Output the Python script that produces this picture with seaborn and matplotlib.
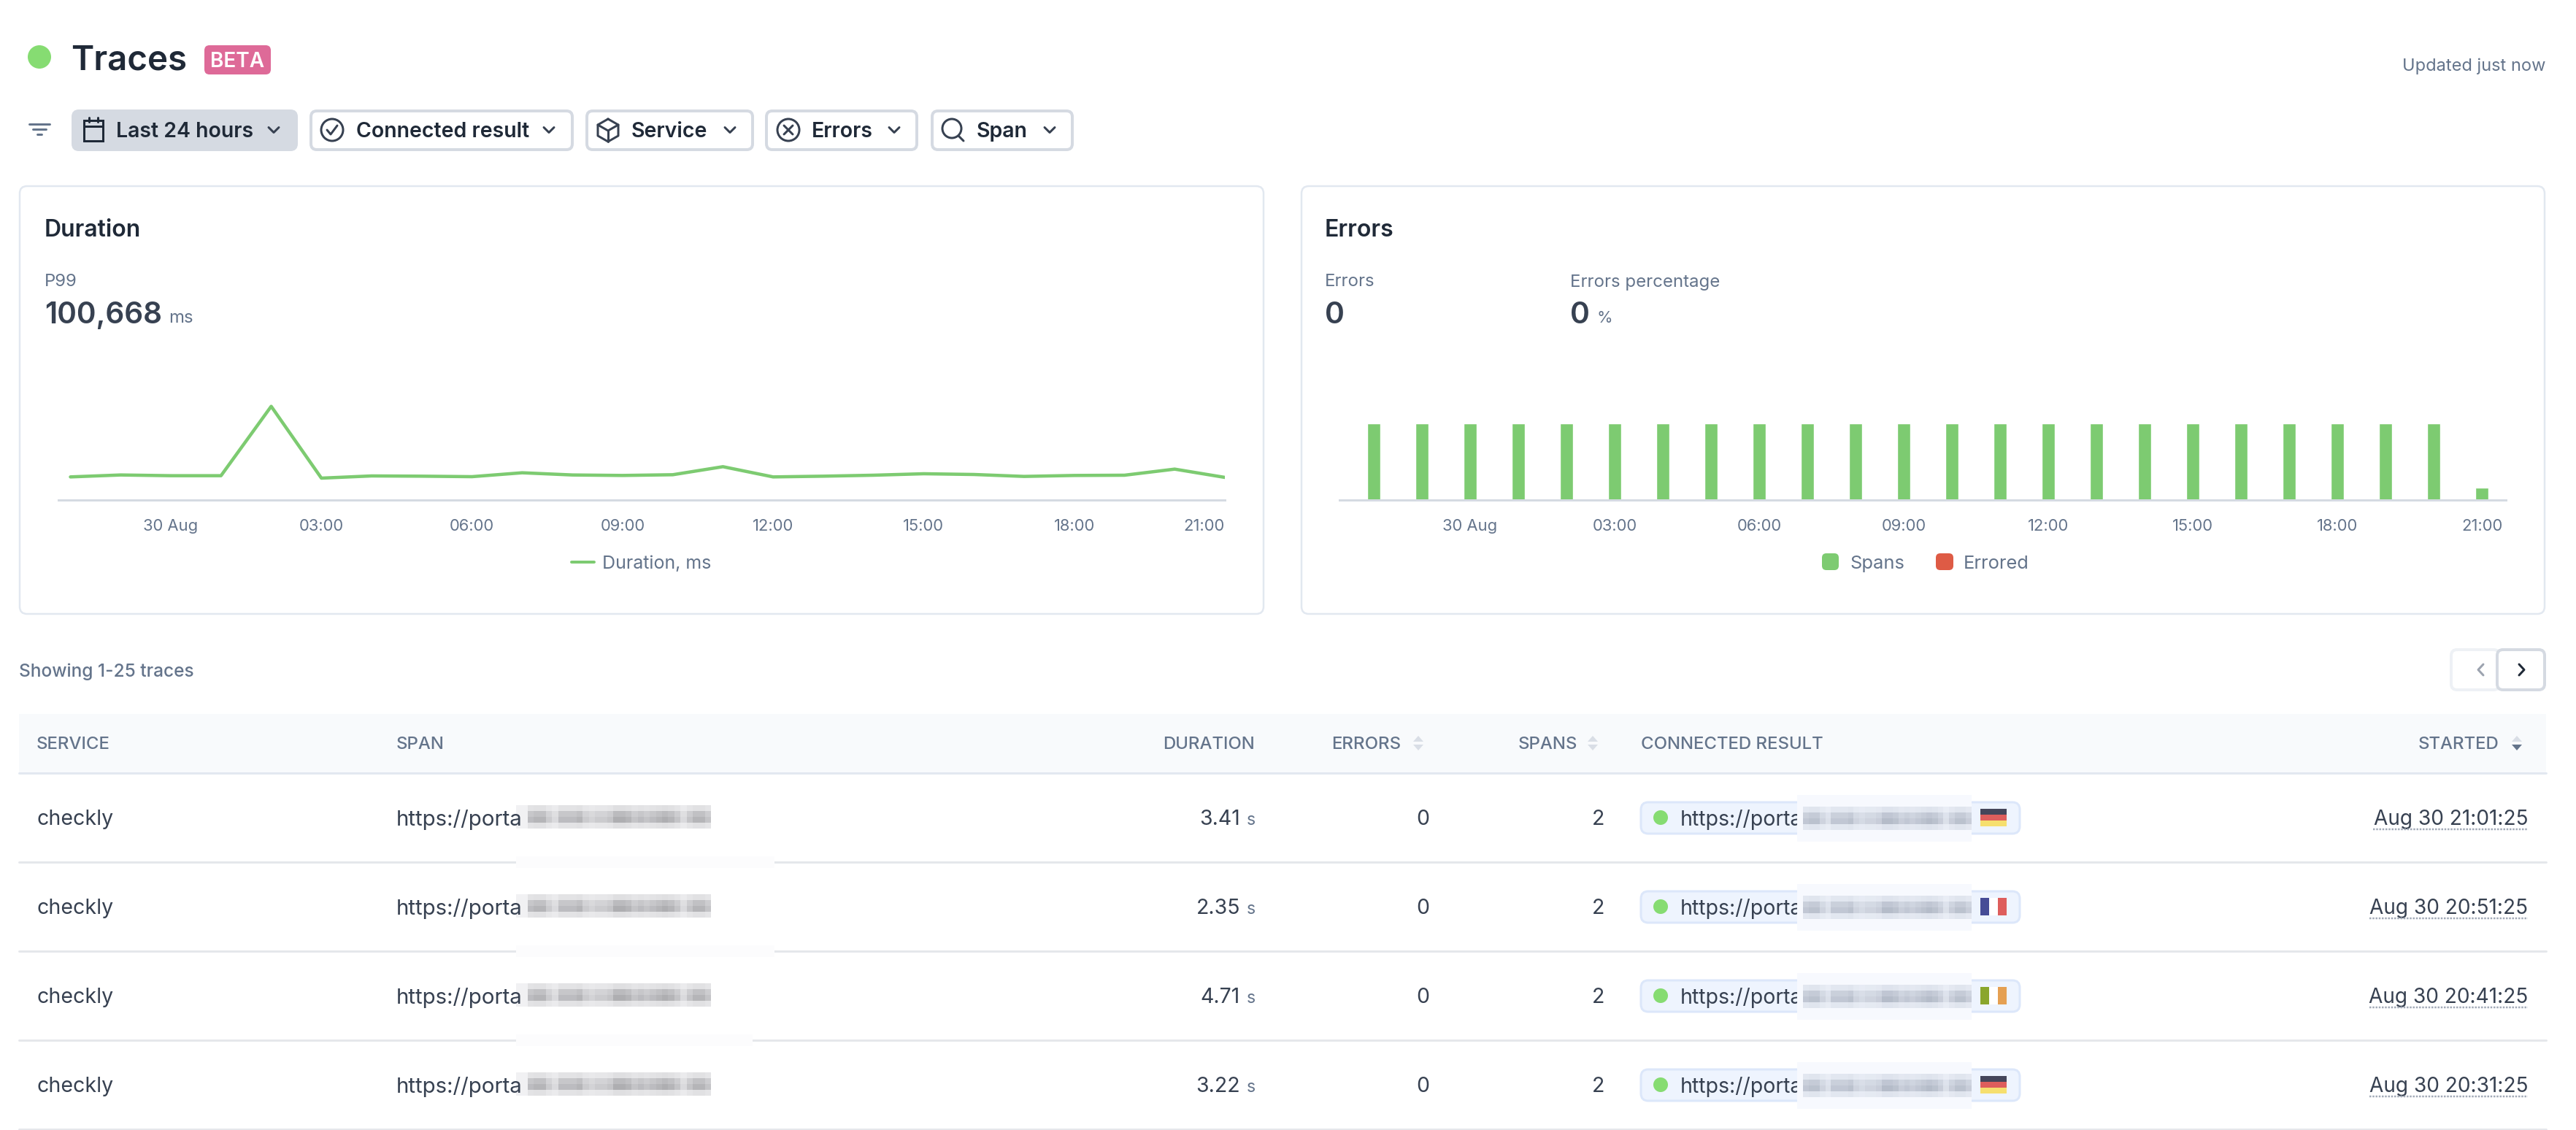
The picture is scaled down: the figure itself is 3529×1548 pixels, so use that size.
import numpy as np
import pandas as pd
import matplotlib
matplotlib.use('Agg')
import matplotlib.pyplot as plt
from matplotlib.patches import FancyBboxPatch, Circle, Rectangle
from matplotlib.colors import LinearSegmentedColormap
import seaborn as sns

# chart data
hour_labels = ['22', '23', '00', '01', '02', '03', '04', '05', '06', '07', '08', '09',
               '10', '11', '12', '13', '14', '15', '16', '17', '18', '19', '20', '21']
duration_ms = [24840, 26930, 26150, 26150, 100668, 23530, 25890, 25620, 25100, 29290, 26930, 26410,
               27190, 35820, 24840, 25620, 26670, 28240, 27450, 25360, 26410, 26670, 33210, 24320]
spans_count = [12, 12, 12, 12, 12, 12, 12, 12, 12, 12, 12, 12,
               12, 12, 12, 12, 12, 12, 12, 12, 12, 12, 12, 2]
errored_count = [0] * 24
tick_hours = ['00', '03', '06', '09', '12', '15', '18', '21']
tick_labels = ['30 Aug', '03:00', '06:00', '09:00', '12:00', '15:00', '18:00', '21:00']

# table data
services = ['checkly', 'checkly', 'checkly', 'checkly']
durations = ['3.41', '2.35', '4.71', '3.22']
errors = ['0', '0', '0', '0']
spans = ['2', '2', '2', '2']
started = ['Aug 30 21:01:25', 'Aug 30 20:51:25', 'Aug 30 20:41:25', 'Aug 30 20:31:25']
flags = ['de', 'fr', 'ie', 'de']
filters = ['Last 24 hours', 'Connected result', 'Service', 'Errors', 'Span']

GREEN = '#7DCB71'
RED = '#DE5B45'
DARK = '#1F2937'
MID = '#374151'
GREY = '#64748B'
LINE = '#E2E8F0'

W, H = 3529, 1548
sns.set_theme(style='white')
plt.rcParams['font.family'] = ['Inter', 'DejaVu Sans']
PX = 0.72  # font size in pt for one pixel at dpi 100

fig = plt.figure(figsize=(W / 100, H / 100), dpi=100, facecolor='white')
ui = fig.add_axes([0, 0, 1, 1])
ui.set_xlim(0, W)
ui.set_ylim(H, 0)
ui.axis('off')


def txt(x, y, s, px, color=GREY, weight='normal', ha='left', va='center_baseline'):
    ui.text(x, y, s, fontsize=px * PX, color=color, fontweight=weight, ha=ha, va=va)


def box(x0, y0, x1, y1, r=10, fc='white', ec='none', lw=0, z=1):
    ui.add_patch(FancyBboxPatch((x0, y0), x1 - x0, y1 - y0, boxstyle=f'round,pad=0,rounding_size={r}',
                                fc=fc, ec=ec, lw=lw * PX, zorder=z))


def stroke(xs, ys, color=MID, lw=3, z=3):
    ui.plot(xs, ys, color=color, lw=lw * PX, solid_capstyle='round', solid_joinstyle='round', zorder=z)


def chevron(x, y, s=7, color=MID, lw=3):
    stroke([x - s, x, x + s], [y - s / 2, y + s / 2, y - s / 2], color, lw)


def ring(x, y, r=15, color=MID):
    ui.add_patch(Circle((x, y), r, fc='none', ec=color, lw=3 * PX, zorder=3))


# header
ui.add_patch(Circle((54, 78), 16, fc='#86DC72', ec='none'))
txt(97, 78, 'Traces', 47.5, DARK, 600)
box(280, 62, 371, 102, r=7, fc='#DE6A98')
txt(325.5, 82, 'BETA', 28, 'white', 600, ha='center')
txt(3487, 88, 'Updated just now', 23.6, GREY, ha='right')

# filter bar
for y, x0, x1 in [(170, 40, 68), (177, 45, 63), (184, 51, 57)]:
    stroke([x0, x1], [y, y], GREY, 3)
btn_x = [(100, 406), (426, 784), (804, 1031), (1050, 1256), (1277, 1469)]
icon_x = [128, 455, 833, 1080, 1306]
text_x = [159, 488, 865, 1112, 1338]
chev_x = [375, 752, 1000, 1225, 1438]
for i, name in enumerate(filters):
    fc = '#D5DAE2' if i == 0 else 'white'
    box(btn_x[i][0], 152, btn_x[i][1], 205, r=8, fc=fc, ec='#D5DAE2', lw=4)
    txt(text_x[i], 178, name, 28.5, DARK, 600)
    chevron(chev_x[i], 178)
# icons of the filter buttons
ix = icon_x[0]
ui.add_patch(Rectangle((ix - 13, 165), 26, 28, fc='none', ec=DARK, lw=3 * PX, zorder=3))
stroke([ix - 13, ix + 13], [173, 173], DARK)
stroke([ix - 6, ix - 6], [161, 167], DARK)
stroke([ix + 6, ix + 6], [161, 167], DARK)
ix = icon_x[1]
ring(ix, 178)
stroke([ix - 7, ix - 2, ix + 7], [178, 184, 172])
ix = icon_x[2]
stroke([ix, ix + 14, ix + 14, ix, ix - 14, ix - 14, ix], [163, 171, 186, 194, 186, 171, 163])
stroke([ix - 14, ix, ix + 14], [171, 179, 171])
stroke([ix, ix], [179, 194])
ix = icon_x[3]
ring(ix, 178)
stroke([ix - 6, ix + 6], [172, 184])
stroke([ix - 6, ix + 6], [184, 172])
ix = icon_x[4]
ring(ix - 2, 176, 13)
stroke([ix + 7, ix + 14], [186, 193])

# cards
box(27, 255, 1731, 841, r=10, ec=LINE, lw=2.5)
box(1783, 255, 3486, 841, r=10, ec=LINE, lw=2.5)
txt(61, 312, 'Duration', 32, DARK, 600)
txt(61, 383, 'P99', 24, GREY)
txt(61, 428, '100,668', 40.5, MID, 600)
txt(231, 434, 'ms', 24, GREY)
txt(1815, 312, 'Errors', 32, DARK, 600)
txt(1815, 384, 'Errors', 24, GREY)
txt(2151, 384, 'Errors percentage', 24, GREY)
txt(1815, 428, '0', 41, MID, 600)
txt(2151, 428, '0', 41, MID, 600)
txt(2188, 434, '%', 22, GREY)


def chart_axes(x0, x1, y0, y1):
    ax = fig.add_axes([x0 / W, 1 - y1 / H, (x1 - x0) / W, (y1 - y0) / H])
    ax.patch.set_alpha(0)
    return ax


def style_axis(ax):
    sns.despine(ax=ax, left=True)
    ax.spines['bottom'].set_color('#D5DAE2')
    ax.spines['bottom'].set_linewidth(3 * PX)
    ax.set_xlabel('')
    ax.set_ylabel('')
    ax.set_yticks([])
    ax.tick_params(axis='x', length=0, pad=18.5, labelsize=22 * PX, labelcolor=GREY)


# duration line chart
duration_df = pd.DataFrame({'hour': range(len(hour_labels)), 'duration': duration_ms})
tick_pos = [hour_labels.index(h) for h in tick_hours]
ax_line = chart_axes(79.5, 1678, 545, 685)
sns.lineplot(data=duration_df, x='hour', y='duration', color=GREEN, linewidth=4.5 * PX, ax=ax_line)
ax_line.set_xlim(-0.247, 23)
ax_line.set_ylim(0, 109800)
style_axis(ax_line)
ax_line.set_xticks(tick_pos)
ax_line.set_xticklabels(tick_labels)
ax_line.get_xticklabels()[-1].set_ha('right')

stroke([783, 814], [770, 770], GREEN, 4)
txt(825, 770, 'Duration, ms', 25, GREY)

# errors bar chart
errors_df = pd.DataFrame({
    'hour': hour_labels * 2,
    'count': spans_count + errored_count,
    'series': ['Spans'] * 24 + ['Errored'] * 24,
})
ax_bar = chart_axes(1835, 3432.6, 545, 685)
sns.barplot(data=errors_df, x='hour', y='count', hue='series', order=hour_labels, dodge=False,
            palette={'Spans': GREEN, 'Errored': RED}, saturation=1, width=0.273, legend=False, ax=ax_bar)
ax_bar.set_xlim(-0.712, 23.49)
ax_bar.set_ylim(0, 16)
style_axis(ax_bar)
ax_bar.set_xticks(tick_pos)
ax_bar.set_xticklabels(tick_labels)

box(2496, 758, 2519, 781, r=6, fc=GREEN)
txt(2534, 770, 'Spans', 25.5, GREY)
box(2652, 758, 2676, 781, r=6, fc=RED)
txt(2690, 770, 'Errored', 25.5, GREY)

# table header
txt(26, 918, 'Showing 1-25 traces', 24.5, GREY, 500)
box(3358, 890, 3424, 945, r=8, ec='#EEF1F5', lw=4)
box(3421, 890, 3486, 945, r=8, ec='#D5DAE2', lw=4)
stroke([3402, 3395, 3402], [910, 917.5, 925], '#9CA3AF', 3)
stroke([3451, 3458, 3451], [910, 917.5, 925], DARK, 3)

ui.add_patch(Rectangle((26, 978), 3462, 81, fc='#F8FAFC', ec='none'))
ui.plot([26, 3488], [1059, 1059], color=LINE, lw=3 * PX)
txt(50, 1018, 'SERVICE', 24, GREY, 500)
txt(543, 1018, 'SPAN', 24, GREY, 500)
txt(1719, 1018, 'DURATION', 24, GREY, 500, ha='right')
txt(1824, 1018, 'ERRORS', 24, GREY, 500)
txt(2080, 1018, 'SPANS', 24, GREY, 500)
txt(2248, 1018, 'CONNECTED RESULT', 24, GREY, 500)
txt(3423, 1018, 'STARTED', 24, GREY, 500, ha='right')
for x, low in [(1943, '#D9DEE6'), (2182, '#D9DEE6'), (3448, GREY)]:
    ui.fill([x - 7, x, x + 7], [1016, 1008, 1016], color='#D9DEE6', lw=0)
    ui.fill([x - 7, x, x + 7], [1020, 1028, 1020], color=low, lw=0)

# blurred parts of the urls
blur_profile = [.7, .8, .8, .5, .3, .7, .7, .7, .8, .5, .4, .5, .5, .6, .9,
                .9, .8, .6, .7, .6, .7, .8, .9, .8, .6, .3, .6, .8, .8, .6]
blur_rows = [.2, .6, .75, .2]
blur = np.outer(blur_rows, blur_profile)
span_cmap = LinearSegmentedColormap.from_list('span_blur', ['#F1F1F3', '#8E8E92'])
pill_cmap = LinearSegmentedColormap.from_list('pill_blur', ['#EEF2FA', '#9AA2B2'])

row_y = [1121, 1243, 1365, 1487]
line_y = [1181, 1303, 1425, 1547]
line_gap = [1061, 1061, 1031, None]
flag_colors = {
    'de': ['#45465A', '#DE5E5C', '#F6DF6E'],
    'fr': ['#464C96', '#FFFFFF', '#DE5E5C'],
    'ie': ['#8AA62C', '#FFFFFF', '#E5A052'],
}

for i, y in enumerate(row_y):
    ui.plot([26, 3488], [line_y[i], line_y[i]], color='#E5E7EB', lw=3 * PX, zorder=1)
    if line_gap[i]:
        ui.add_patch(Rectangle((707, line_y[i] - 8), line_gap[i] - 707, 16, fc='#FCFCFD', ec='none', zorder=2))
    txt(50, y - 1, services[i], 28.5, MID)
    txt(543, y - 1, 'https://porta', 29.5, MID)
    ui.add_patch(Rectangle((707, y - 18), 16, 32, fc='#F1F1F3', ec='none', zorder=2))
    ui.imshow(blur, cmap=span_cmap, vmin=0, vmax=1, extent=(723, 974, y + 14, y - 18), aspect='auto',
              interpolation='nearest', zorder=2)
    txt(1699, y - 1, durations[i], 28.5, MID, ha='right')
    txt(1708, y + 1, 's', 23, GREY)
    txt(1958, y - 1, errors[i], 28.5, MID, ha='right')
    txt(2198, y - 1, spans[i], 28.5, MID, ha='right')

    # connected result pill
    box(2248, y - 22, 2767, y + 21, r=10, fc='#EEF4FE', ec='#DCE7FA', lw=3)
    ui.add_patch(Circle((2275, y - 1), 10, fc='#86DC72', ec='none', zorder=3))
    txt(2302, y - 1, 'https://portal', 28.5, MID)
    ui.add_patch(Rectangle((2462, y - 32), 239, 64, fc='#F7F9FE', ec='none', zorder=3))
    ui.imshow(blur, cmap=pill_cmap, vmin=0, vmax=1, extent=(2470, 2701, y + 16, y - 16), aspect='auto',
              interpolation='nearest', zorder=4)
    for j, c in enumerate(flag_colors[flags[i]]):
        if flags[i] == 'de':
            ui.add_patch(Rectangle((2713, y - 13 + j * 8), 36, 8, fc=c, ec='none', zorder=3))
        else:
            ui.add_patch(Rectangle((2713 + j * 12, y - 13), 12, 24, fc=c, ec='none', zorder=3))

    # started time with dotted underline
    txt(3463, y - 1, started[i], 28, MID, ha='right')
    left = 3251 if i == 0 else 3246
    ui.plot([left, 3463], [y + 15, y + 15], color='#A3ABB8', lw=2.5 * PX, ls=(0, (1, 0.7)), zorder=3)

ui.set_xlim(0, W)
ui.set_ylim(H, 0)
fig.savefig('out.png', dpi=100)
